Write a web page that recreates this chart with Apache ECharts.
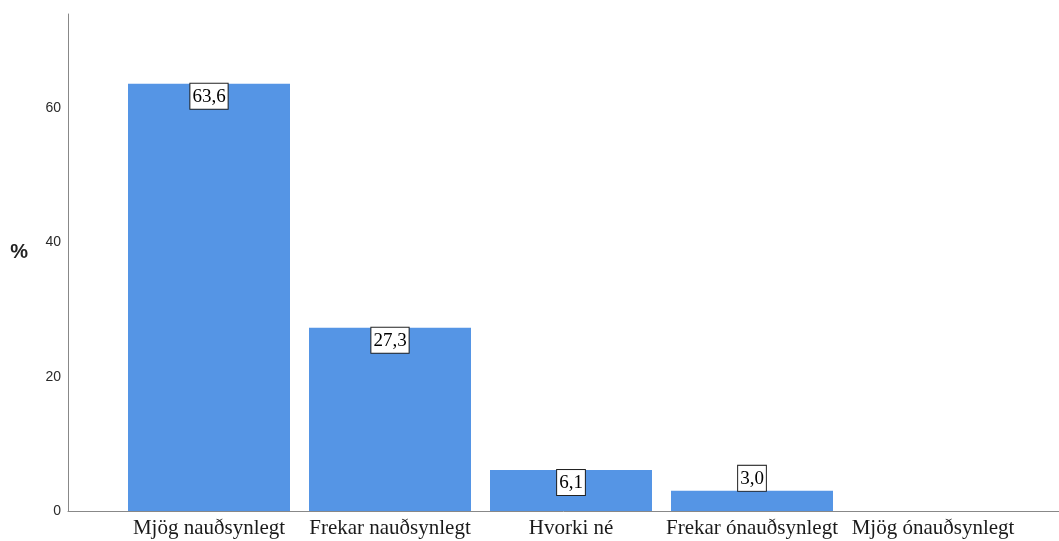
<!DOCTYPE html>
<html>
<head>
<meta charset="utf-8">
<script src="https://cdn.jsdelivr.net/npm/echarts@6/dist/echarts.min.js"></script>
<style>
  html, body { margin: 0; padding: 0; background: #fff; }
  #chart { width: 1059px; height: 541px; }
</style>
</head>
<body>
<div id="chart"></div>
<script>
// Answer categories and their shares (%)
const categories = ['Mjög nauðsynlegt', 'Frekar nauðsynlegt', 'Hvorki né', 'Frekar ónauðsynlegt', 'Mjög ónauðsynlegt'];
const percentages = [63.6, 27.3, 6.1, 3.0, 0];
// Label placement per bar: inside the top edge, or above short bars
const labelPlacement = ['insideTop', 'insideTop', 'insideTop', 'top', 'none'];
const yTicks = { min: 0, max: 74, interval: 20 };

const barColor = '#5595E5';
const serif = '"Liberation Serif", "Times New Roman", serif';
const sans = 'Arial, "Liberation Sans", sans-serif';

const chart = echarts.init(document.getElementById('chart'));

const barData = percentages.map((v, i) => ({
  value: v,
  label: labelPlacement[i] === 'none'
    ? { show: false }
    : { show: true, position: labelPlacement[i], distance: 0 }
}));

chart.setOption({
  animation: false,
  backgroundColor: '#fff',
  grid: [
    // outer frame: carries the axis lines and the value scale
    { left: 68, right: 0, top: 14, bottom: 30 },
    // inner plotting band for the bars
    { left: 118.5, right: 35.5, top: 14, bottom: 30 }
  ],
  xAxis: [
    {
      gridIndex: 0, type: 'value', min: 0, max: 1,
      axisLine: { show: true, lineStyle: { color: '#888', width: 1 } },
      axisTick: { show: false }, axisLabel: { show: false }, splitLine: { show: false }
    },
    {
      gridIndex: 1, type: 'category', data: categories,
      axisLine: { show: false }, axisTick: { show: false },
      axisLabel: { margin: 7, color: '#1a1a1a', fontFamily: serif, fontSize: 21, interval: 0 }
    }
  ],
  yAxis: [
    {
      gridIndex: 0, type: 'value', min: yTicks.min, max: yTicks.max, interval: yTicks.interval,
      name: '%', nameLocation: 'middle', nameRotate: 0, nameGap: 40,
      nameTextStyle: { fontSize: 20, fontWeight: 'bold', color: '#222', fontFamily: sans, verticalAlign: 'bottom' },
      axisLine: { show: true, lineStyle: { color: '#888', width: 1 } },
      axisTick: { show: false },
      axisLabel: { showMaxLabel: false, margin: 7, color: '#2a2a2a', fontSize: 14, fontFamily: sans },
      splitLine: { show: false }
    },
    {
      gridIndex: 1, type: 'value', min: yTicks.min, max: yTicks.max, show: false
    }
  ],
  series: [{
    type: 'bar',
    xAxisIndex: 1, yAxisIndex: 1,
    data: barData,
    barCategoryGap: '10.5%',
    itemStyle: { color: barColor },
    label: {
      show: true,
      formatter: p => p.value.toFixed(1).replace('.', ','),
      color: '#000', fontFamily: serif, fontSize: 19, lineHeight: 20,
      backgroundColor: '#fff', borderColor: '#222', borderWidth: 1,
      padding: [3, 2, 2, 2]
    }
  }]
});
</script>
</body>
</html>
